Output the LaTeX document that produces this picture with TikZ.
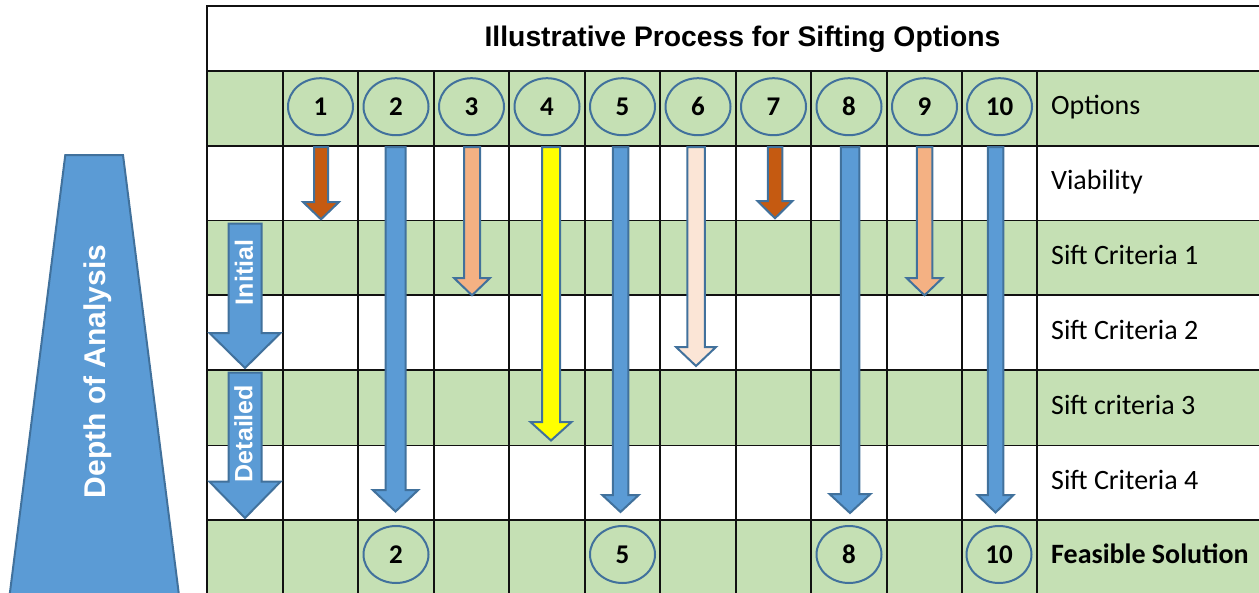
\documentclass[tikz,border=0pt]{standalone}
\usepackage{fontspec}
\setmainfont{Carlito}
\newfontfamily\arialfont{Liberation Sans}
\usetikzlibrary{shapes.geometric}

\definecolor{rowgreen}{HTML}{C5E0B4}
\definecolor{boxblue}{HTML}{5B9BD5}
\definecolor{edgeblue}{HTML}{41719C}
\definecolor{rust}{HTML}{C55A11}
\definecolor{apricot}{HTML}{F4B183}
\definecolor{brightyellow}{HTML}{FFFF00}
\definecolor{peach}{HTML}{FBE5D6}
\definecolor{gridblack}{HTML}{111111}

\tikzset{
  gridline/.style={line width=1.4pt, gridblack},
  optcircle/.style={ellipse, draw=edgeblue, line width=2pt,
    minimum width=65pt, minimum height=57pt, inner sep=0pt,
    font=\fontsize{27}{27}\selectfont\bfseries},
  rowlabel/.style={anchor=base west, inner sep=0pt,
    font=\fontsize{28}{28}\selectfont},
  shapeedge/.style={draw=edgeblue, line width=2pt, line join=miter},
  whitelabel/.style={rotate=90, text=white, inner sep=0pt},
}

% downward block arrow: centre x, top, shaft width, head width, head base, tip, fill
\newcommand\siftarrow[7]{%
  \filldraw[shapeedge, fill=#7]
    (#1-#3/2,#2) -- (#1+#3/2,#2) -- (#1+#3/2,#5) -- (#1+#4/2,#5)
    -- (#1,#6) -- (#1-#4/2,#5) -- (#1-#3/2,#5) -- cycle;}

\begin{document}
\begin{tikzpicture}[x=1pt,y=-1pt]
\useasboundingbox (0,0) rectangle (1259,592);
\clip (0,0) rectangle (1259,592);

% alternating row shading
\foreach \ya/\yb in {71/146, 220.5/295, 370/445.5, 520/600}
  \fill[rowgreen] (207,\ya) rectangle (1270,\yb);

% table rules
\foreach \yy in {6,71,146,220.5,295,370,445.5,520}
  \draw[gridline] (206.3,\yy) -- (1270,\yy);
\draw[gridline] (207,6) -- (207,600);
\foreach \xx in {283,358,434,509,585,660,736,811,887,962,1037}
  \draw[gridline] (\xx,71) -- (\xx,600);

% title
\node[font=\arialfont\bfseries\fontsize{28.3}{28}\selectfont] (title) at (742.5,39.5)
  {Illustrative Process for Sifting Options};

% option circles
\foreach \n/\cx in {1/320.5,2/396,3/471.5,4/547,5/622.5,6/698,7/773.5,8/849,9/924.5,10/999.5}
  \node[optcircle] (opt\n) at (\cx,106.7) {\n};

% surviving options
\foreach \n/\cx in {2/396,5/622.5,8/849,10/999}
  \node[optcircle] (res\n) at (\cx,554.5) {\n};

% sifting arrows
\siftarrow{321}{147}{14}{36}{202}{219.3}{rust}
\siftarrow{395.5}{147}{20}{45.5}{490}{511.5}{boxblue}
\siftarrow{472}{147}{16}{36}{278}{295.3}{apricot}
\siftarrow{551}{147}{18}{41}{422}{440.5}{brightyellow}
\siftarrow{620.5}{147}{15.5}{36.5}{495}{512}{boxblue}
\siftarrow{696}{147}{17.5}{40}{347}{366}{peach}
\siftarrow{775}{147}{14.5}{35}{201}{218.3}{rust}
\siftarrow{850}{147}{18.5}{41}{494}{513}{boxblue}
\siftarrow{924.5}{147}{15.5}{36}{278}{295.3}{apricot}
\siftarrow{995.5}{147}{15.5}{36}{495}{512.5}{boxblue}

% row labels
\node[rowlabel] (lbl-options) at (1051,114.5) {Options};
\node[rowlabel] (lbl-viab) at (1051,189.8) {Viability};
\node[rowlabel] (lbl-s1) at (1051,264.3) {Sift Criteria 1};
\node[rowlabel] (lbl-s2) at (1051,339) {Sift Criteria 2};
\node[rowlabel] (lbl-s3) at (1051,414.3) {Sift criteria 3};
\node[rowlabel] (lbl-s4) at (1051,489.3) {Sift Criteria 4};
\node[rowlabel, font=\fontsize{28}{28}\selectfont\bfseries] (lbl-feas) at (1051,563) {Feasible Solution};

% depth of analysis wedge
\filldraw[shapeedge, fill=boxblue] (65.3,155) -- (123,155) -- (179.6,600) -- (9,600) -- cycle;
\node[whitelabel, font=\arialfont\bfseries\fontsize{30}{30}\selectfont] (depth) at (97.5,371.5)
  {Depth of Analysis};

% stage arrows
\siftarrow{245}{223.5}{33}{71}{333}{368}{boxblue}
\siftarrow{245}{372.5}{33}{71}{481.7}{518}{boxblue}
\node[whitelabel, font=\arialfont\bfseries\fontsize{25}{25}\selectfont] (initial) at (244,272.5) {Initial};
\node[whitelabel, font=\arialfont\bfseries\fontsize{25}{25}\selectfont] (detailed) at (243.5,433.5) {Detailed};
\end{tikzpicture}
\end{document}
